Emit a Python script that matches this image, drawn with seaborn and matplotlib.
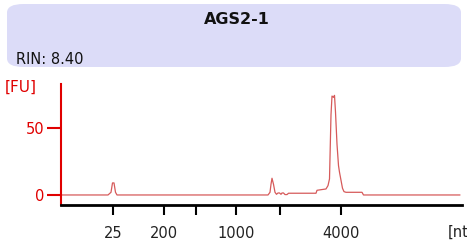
import pandas as pd
import seaborn as sns
import matplotlib.pyplot as plt
from matplotlib.patches import FancyBboxPatch

# electropherogram trace (position along the run, fluorescence units)
position = [0, 47, 50, 51.5, 53, 54.5, 56, 207, 209, 210, 211, 212.5, 214, 215.5,
            217, 218.5, 220, 221, 222.5, 224, 226, 227.5, 255, 256, 265, 267,
            268.5, 270, 271, 272.5, 273.5, 274.5, 276, 277.5, 278.5, 280, 281.5,
            283, 285, 301, 302.5, 399]
fu = [0, 0, 2, 9, 9, 2, 0, 0, 2, 8, 12.5, 8, 2, 0.5,
      1.5, 1.5, 0.5, 1.5, 1.5, 0.3, 0.3, 1.3, 1.3, 3.5, 4.5, 7,
      12, 60, 74, 73, 74.5, 62, 38, 22, 17, 11, 5,
      2.5, 2, 2, 0, 0]

tick_pos = [52, 103, 135, 175, 219, 280]
tick_labels = ['25', '200', '', '1000', '', '4000']

sample = 'AGS2-1'
rin = 'RIN: 8.40'

df = pd.DataFrame({'position': position, 'fu': fu})

sns.set_style('white')
plt.rcParams['font.family'] = ['DejaVu Sans']

fig = plt.figure(figsize=(4.67, 2.48), dpi=100)
ax = fig.add_axes([61 / 467, 1 - 205 / 248, 401 / 467, 121 / 248])
ax.patch.set_alpha(0)

sns.lineplot(data=df, x='position', y='fu', ax=ax, color='#D65A5A', linewidth=0.9)

ax.set_xlim(0, 401)
ax.set_ylim(-7.5, 83)
ax.set_xlabel('')
ax.set_ylabel('')
sns.despine(ax=ax)
ax.spines['left'].set_color('#E00000')
ax.spines['left'].set_linewidth(1.5)
ax.spines['bottom'].set_color('black')
ax.spines['bottom'].set_linewidth(2)

ax.set_xticks(tick_pos)
ax.set_xticklabels(tick_labels, fontsize=10.5, color='#222222')
ax.tick_params(axis='x', direction='out', length=7, width=1.5, color='black', pad=8, bottom=True)
ax.set_yticks([0, 50])
ax.set_yticklabels(['0', '50'], fontsize=10.5, color='#E00000')
ax.tick_params(axis='y', direction='out', length=10, width=1.5, color='#E00000', pad=2, left=True)

# header panel
header = FancyBboxPatch((7 / 467, 1 - 67 / 248), 454 / 467, 63 / 248,
                        boxstyle='round,pad=0,rounding_size=0.035',
                        transform=fig.transFigure, facecolor='#DCDCF8',
                        edgecolor='none', zorder=-5)
fig.patches.append(header)
fig.text(237 / 467, 1 - 20 / 248, sample, ha='center', va='center',
         fontsize=11.5, fontweight='bold', color='#111111')
fig.text(16 / 467, 1 - 59 / 248, rin, ha='left', va='center', fontsize=10.5, color='#111111')

fig.text(5 / 467, 1 - 87 / 248, '[FU]', ha='left', va='center', fontsize=11, color='#E00000')
fig.text(448 / 467, 1 - 232 / 248, '[nt]', ha='left', va='center', fontsize=10.5, color='#222222')

plt.savefig('out.png', dpi=100)
